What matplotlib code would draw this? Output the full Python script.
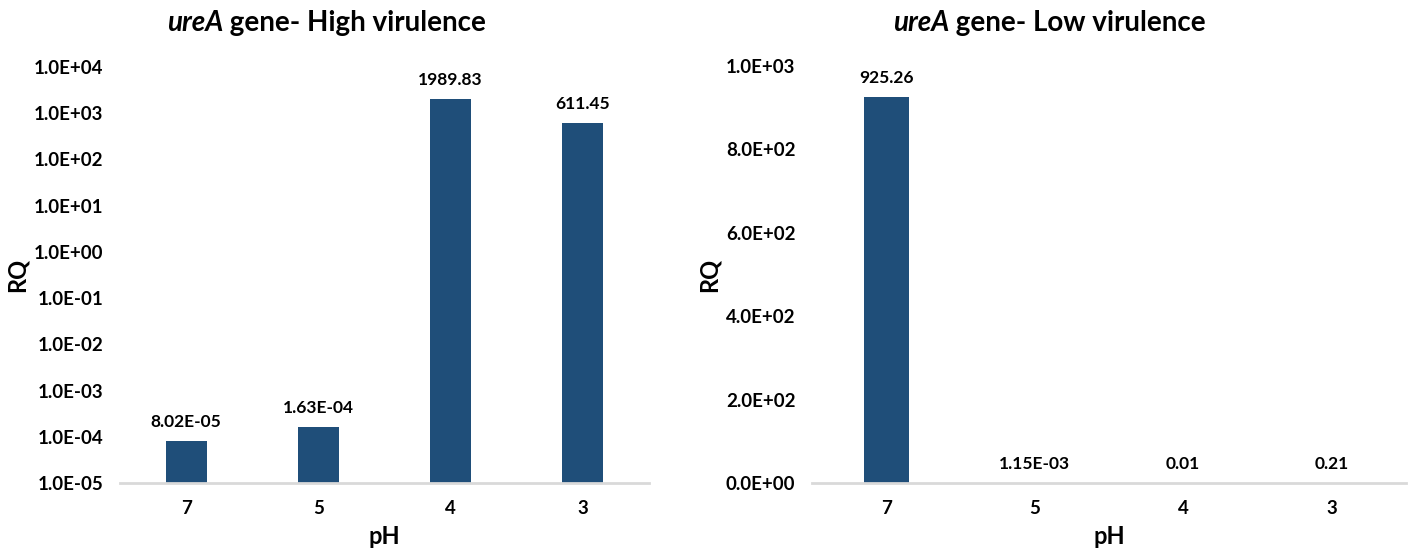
import matplotlib
matplotlib.use("Agg")
import matplotlib.pyplot as plt
import numpy as np

ph_labels = ["7", "5", "4", "3"]
high_values = [8.02e-05, 1.63e-04, 1989.83, 611.45]
high_labels = ["8.02E-05", "1.63E-04", "1989.83", "611.45"]
low_values = [925.26, 1.15e-03, 0.01, 0.21]
low_labels = ["925.26", "1.15E-03", "0.01", "0.21"]
high_yticks = [1e-5, 1e-4, 1e-3, 1e-2, 1e-1, 1e0, 1e1, 1e2, 1e3, 1e4]
high_yticklabels = ["1.0E-05", "1.0E-04", "1.0E-03", "1.0E-02", "1.0E-01",
                    "1.0E+00", "1.0E+01", "1.0E+02", "1.0E+03", "1.0E+04"]
low_yticks = [0, 200, 400, 600, 800, 1000]
low_yticklabels = ["0.0E+00", "2.0E+02", "4.0E+02", "6.0E+02", "8.0E+02", "1.0E+03"]

plt.rcParams['font.family'] = ['Lato', 'DejaVu Sans']
BAR = "#1F4E79"
AX = "#D9D9D9"

W, H = 1412, 553
fig = plt.figure(figsize=(W / 100, H / 100), dpi=100)

def box(l, r, t, b):
    return [l / W, 1 - b / H, (r - l) / W, (b - t) / H]

ax1 = fig.add_axes(box(120, 649, 67, 483))
ax2 = fig.add_axes(box(812, 1406, 66, 483))

TICK = 13.5
LAB = 12.5

def style(ax):
    for s in ["top", "right", "left"]:
        ax.spines[s].set_visible(False)
    ax.spines["bottom"].set_color(AX)
    ax.spines["bottom"].set_linewidth(2)
    ax.tick_params(axis="both", length=0, labelsize=TICK)
    ax.tick_params(axis="y", pad=12)
    ax.tick_params(axis="x", pad=12)
    for lab in ax.get_xticklabels() + ax.get_yticklabels():
        lab.set_fontweight("bold")
    ax.set_xlim(-0.5, 3.5)

x = np.arange(len(ph_labels))

# Left chart (log)
ax1.bar(x, high_values, width=0.31, color=BAR, bottom=0)
ax1.set_yscale("log")
ax1.set_ylim(1e-5, 1e4)
ax1.set_yticks(high_yticks)
ax1.set_yticklabels(high_yticklabels)
ax1.minorticks_off()
ax1.set_xticks(x)
ax1.set_xticklabels(ph_labels)
style(ax1)
for xi, v, lab in zip(x, high_values, high_labels):
    ax1.annotate(lab, (xi, v), xytext=(0, 8), textcoords="offset points",
                 ha="center", va="bottom", fontsize=LAB, fontweight="bold")
ax1.set_ylabel("RQ", fontsize=17, fontweight="bold", labelpad=4)
ax1.set_xlabel("pH", fontsize=17, fontweight="bold", labelpad=6)

# Right chart (linear)
ax2.bar(x, low_values, width=0.30, color=BAR)
ax2.set_ylim(0, 1000)
ax2.set_yticks(low_yticks)
ax2.set_yticklabels(low_yticklabels)
ax2.set_xticks(x)
ax2.set_xticklabels(ph_labels)
style(ax2)
for xi, v, lab in zip(x, low_values, low_labels):
    ax2.annotate(lab, (xi, v), xytext=(0, 8), textcoords="offset points",
                 ha="center", va="bottom", fontsize=LAB, fontweight="bold")
ax2.set_ylabel("RQ", fontsize=17, fontweight="bold", labelpad=4)
ax2.set_xlabel("pH", fontsize=17, fontweight="bold", labelpad=6)

# Titles with italic gene name
def title(xpx, rest):
    t1 = fig.text(xpx / W, 1 - 31 / H, "ureA", fontsize=20, fontweight="bold",
                  style="italic", ha="left", va="baseline")
    plt.annotate(rest, xy=(1, 0), xycoords=t1, fontsize=20, fontweight="bold",
                 ha="left", va="bottom", annotation_clip=False)

title(167, " gene- High virulence")
title(893, " gene- Low virulence")

fig.savefig("out.png", dpi=100)
